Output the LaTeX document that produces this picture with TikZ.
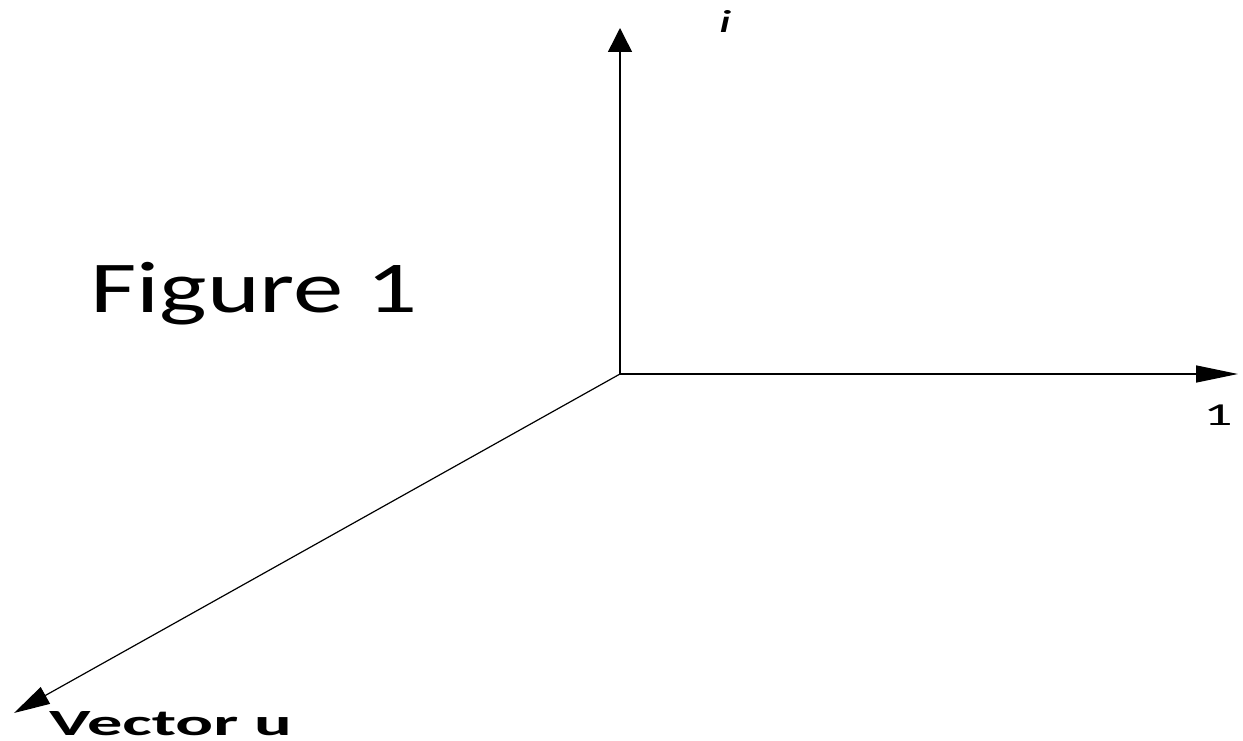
\documentclass[tikz,border=0pt]{standalone}
\usepackage{fontspec}
\setmainfont{Carlito}
\usetikzlibrary{arrows.meta}

\begin{document}
\begin{tikzpicture}[x=1pt, y=-1pt,
    axis/.style={line width=1.5pt},
    lbl/.style={anchor=base, inner sep=0pt}
]
\useasboundingbox (0,0) rectangle (1243,741);

% origin and axis ends
\coordinate (O) at (620,374);
\coordinate (I) at (620,28);
\coordinate (R) at (1238,374);
\coordinate (U) at (14,713);

% axes
\draw[axis, -{Triangle[length=24pt,width=24pt]}] (O) -- (I);
\draw[axis, -{Triangle[length=42pt,width=17pt]}] (O) -- (R);
\draw[axis, line width=1.2pt, -{Triangle[length=36pt,width=19pt]}] (O) -- (U);

% labels
\node[lbl, xscale=1.38, font=\fontsize{73}{80}\selectfont] (fig) at (254,312) {Figure 1};
\node[lbl, xscale=1.8, font=\fontsize{32}{36}\selectfont\itshape] (ilbl) at (725,33) {i};
\node[lbl, xscale=1.8, font=\fontsize{32}{36}\selectfont] (one) at (1218,425) {1};
\node[lbl, xscale=1.9, font=\fontsize{37}{42}\selectfont\bfseries] (vec) at (170.5,735) {Vector u};

\end{tikzpicture}
\end{document}
